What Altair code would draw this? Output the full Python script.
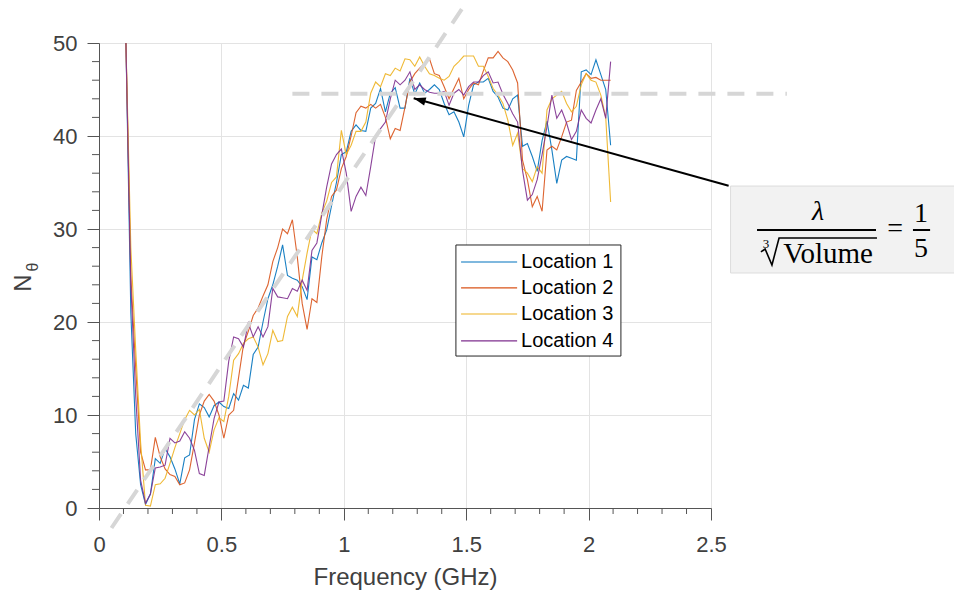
import altair as alt
import pandas as pd

# Frequency grid of the measurement (GHz), 20 MHz steps
FREQ_GHZ = [round(0.11 + 0.02 * i, 2) for i in range(100)]

LOC1 = [50, 21, 8, 2.5, 0.4, 1.5, 5.3, 4.8, 6.4, 5.5,
        4.2, 2.6, 5.4, 5.7, 9.5, 11.2, 10.8, 9.8, 11.0, 11.4,
        10.9, 10.7, 12.3, 11.6, 13.2, 12.9, 16.5, 17.3, 20.0, 22.5,
        24.0, 26.0, 28.3, 25.0, 24.7, 24.5, 23.8, 22.4, 27.0, 26.7,
        28.5, 29.9, 32.5, 35.0, 38.0, 38.3, 40.5, 41.2, 40.6, 40.5,
        43.0, 43.5, 45.1, 42.6, 44.6, 45.2, 43.0, 43.0, 46.2, 44.5,
        45.7, 44.6, 45.0, 45.5, 45.0, 43.5, 42.3, 42.6, 41.5, 39.9,
        43.3, 45.5, 45.8, 45.8, 46.2, 44.8, 44.2, 43.0, 42.8, 44.0,
        44.4, 38.9, 39.2, 37.8, 36.2, 39.5, 41.6, 38.5, 34.9, 37.4,
        37.8, 37.6, 37.4, 46.9, 47.1, 46.6, 48.2, 46.6, 45.0, 39.0]

LOC2 = [50, 25, 15, 6, 4.1, 4.1, 7.6, 5.5, 4.2, 3.6,
        3.4, 2.5, 2.7, 4.1, 7.0, 10.0, 11.5, 12.2, 11.5, 10.0,
        7.5, 10.0, 10.5, 14.0, 17.5, 19.0, 20.7, 21.5, 22.8, 24.0,
        26.5, 28.0, 30.0, 29.5, 31.0, 27.0, 22.0, 19.2, 22.5, 22.1,
        27.0, 31.0, 33.5, 34.2, 36.5, 37.8, 40.0, 42.5, 43.2, 43.0,
        43.4, 43.0, 43.4, 42.0, 39.7, 40.8, 40.6, 43.1, 45.8, 46.7,
        47.3, 47.8, 48.3, 46.7, 46.5, 45.3, 44.0, 45.1, 46.2, 44.0,
        45.0, 45.7, 45.5, 47.0, 48.4, 48.4, 49.1, 48.4, 48.0, 47.1,
        45.7, 37.4, 35.3, 32.4, 33.5, 31.9, 38.5, 38.9, 38.5, 39.9,
        41.5, 41.7, 44.9, 45.8, 46.7, 46.2, 46.3, 46.0, 46.0, 46.0]

LOC3 = [50, 28, 17, 7, 0.3, 0.2, 2.5, 2.6, 3.2, 4.8,
        6.5, 8.0, 9.5, 10.5, 10.0, 10.6, 7.5, 6.0, 8.4, 9.7,
        9.3, 12.0, 15.9, 16.6, 17.7, 18.2, 18.4, 17.3, 15.4, 16.6,
        19.1, 17.9, 18.0, 20.6, 21.6, 20.6, 24.5, 27.4, 30.0, 29.5,
        31.7, 33.0, 35.0, 35.6, 40.6, 38.0, 39.0, 40.5, 40.5, 41.5,
        44.6, 45.8, 45.3, 46.7, 46.5, 47.3, 47.0, 48.3, 48.2, 47.5,
        48.5, 47.5, 46.7, 46.5, 46.2, 46.0, 46.4, 47.5, 48.0, 48.6,
        48.6, 48.6, 47.5, 47.5, 46.4, 45.1, 44.4, 43.5, 41.7, 39.0,
        40.3, 36.5, 36.0, 35.1, 36.7, 36.0, 42.8, 44.0, 44.4, 44.8,
        43.5, 42.6, 43.2, 45.5, 46.7, 46.0, 45.8, 44.4, 42.0, 32.9]

LOC4 = [50, 24, 12, 3, 0.5, 1.5, 4.3, 4.4, 4.6, 7.5,
        7.0, 7.2, 8.2, 7.5, 6.2, 3.7, 3.5, 6.6, 9.6, 11.4,
        11.5, 15.8, 18.4, 18.2, 17.3, 19.9, 18.4, 19.5, 18.4, 19.5,
        23.6, 22.7, 22.6, 22.5, 23.6, 23.3, 24.5, 23.4, 27.7, 28.5,
        31.5, 34.5, 37.0, 38.0, 38.6, 36.0, 31.9, 33.5, 34.5, 33.6,
        36.7, 40.0, 40.8, 41.5, 44.0, 46.0, 45.5, 46.0, 46.9, 45.0,
        45.5, 45.0, 44.7, 44.6, 44.6, 44.8, 43.3, 44.6, 45.0, 44.4,
        45.3, 45.8, 45.8, 46.5, 46.9, 45.7, 45.8, 44.5, 43.5, 42.4,
        41.5, 36.3, 33.1, 33.7, 35.3, 38.0, 41.0, 44.4, 41.9, 42.8,
        41.4, 39.6, 40.5, 42.8, 41.9, 41.4, 42.8, 44.0, 41.9, 48.0]

SERIES = ["Location 1", "Location 2", "Location 3", "Location 4"]
COLORS = ["#0072BD", "#D95319", "#EDB120", "#7E2F8E"]

X_MAJOR = [0, 0.5, 1, 1.5, 2, 2.5]
X_MINOR = [0.1, 0.2, 0.3, 0.4, 0.6, 0.7, 0.8, 0.9, 1.1, 1.2, 1.3, 1.4,
           1.6, 1.7, 1.8, 1.9, 2.1, 2.2, 2.3, 2.4]
Y_MAJOR = [0, 10, 20, 30, 40, 50]
Y_MINOR = [v for v in range(2, 50, 2) if v % 10]

# Guide lines in data units (GHz, N_theta)
SLOPE_X = [0.051, 1.499]
SLOPE_Y = [-2.15, 54.3]
LEVEL_X = [0.79, 2.81]
LEVEL_Y = 44.55
ARROW_TAIL = (2.572, 34.66)
ARROW_TIP = (1.2855, 44.05)

# Legend placement (data units)
LEG_BOX = (1.458, 2.132, 16.34, 28.28)
LEG_LINE_X = (1.479, 1.708)
LEG_TEXT_X = 1.724
LEG_ROWS = [26.45, 23.66, 20.86, 17.96]

# Callout box with the size ratio
BOX = (2.58, 3.53, 25.27, 34.62)

SANS = "Liberation Sans"
SERIF = "Liberation Serif"
AXIS_GRAY = "#555555"
TEXT_GRAY = "#404040"

xs = alt.Scale(domain=[0, 2.5], nice=False, zero=False)
ys = alt.Scale(domain=[0, 50], nice=False, zero=False)
cs = alt.Scale(domain=SERIES, range=COLORS)

x_axis = alt.Axis(
    values=X_MAJOR,
    format="~g",
    title="Frequency (GHz)",
    titleFont=SANS, titleFontSize=24, titleFontWeight="normal", titleColor=TEXT_GRAY,
    titleBaseline="middle", titleY=69,
    labelFont=SANS, labelFontSize=22, labelColor=TEXT_GRAY, labelPadding=14,
    labelFlush=False, labelOverlap=False,
    tickSize=12, tickColor=AXIS_GRAY, tickWidth=1,
    domainColor=AXIS_GRAY, domainWidth=1,
    grid=True, gridColor="#e3e3e3", gridWidth=1,
)
y_axis = alt.Axis(
    values=Y_MAJOR,
    format="d",
    title=None,
    labelFont=SANS, labelFontSize=22, labelColor=TEXT_GRAY, labelPadding=10,
    labelFlush=False, labelOverlap=False,
    tickSize=12, tickColor=AXIS_GRAY, tickWidth=1,
    domainColor=AXIS_GRAY, domainWidth=1,
    grid=True, gridColor="#e3e3e3", gridWidth=1,
)


def X(field):
    return alt.X(field, type="quantitative", scale=xs, axis=x_axis)


def Y(field):
    return alt.Y(field, type="quantitative", scale=ys, axis=y_axis)


rows = []
for name, vals in zip(SERIES, [LOC1, LOC2, LOC3, LOC4]):
    for f, v in zip(FREQ_GHZ, vals):
        rows.append({"x": f, "y": v, "loc": name})
df = pd.DataFrame(rows)

lines = alt.Chart(df).mark_line(strokeWidth=1.1, opacity=0.9, clip=True).encode(
    x=X("x"), y=Y("y"),
    color=alt.Color("loc:N", scale=cs, legend=None),
    detail="loc:N",
)

# Minor ticks drawn outward from the axis lines
x_minor = alt.Chart(pd.DataFrame({"x": X_MINOR})).mark_rule(
    color=AXIS_GRAY, strokeWidth=1, clip=False
).encode(x=X("x"), y=alt.value(465), y2=alt.value(471))
y_minor = alt.Chart(pd.DataFrame({"y": Y_MINOR})).mark_rule(
    color=AXIS_GRAY, strokeWidth=1, clip=False
).encode(y=Y("y"), x=alt.value(0), x2=alt.value(-7))

guide_df = pd.DataFrame({
    "x": [SLOPE_X[0], SLOPE_X[1], LEVEL_X[0], LEVEL_X[1]],
    "y": [SLOPE_Y[0], SLOPE_Y[1], LEVEL_Y, LEVEL_Y],
    "g": ["slope", "slope", "level", "level"],
})
guides = alt.Chart(guide_df).mark_line(
    color="#d6d6d6", strokeWidth=4, strokeDash=[17, 12], clip=False
).encode(x=X("x"), y=Y("y"), detail="g:N")

arrow_df = pd.DataFrame({"x": [ARROW_TAIL[0]], "y": [ARROW_TAIL[1]],
                         "x2": [ARROW_TIP[0]], "y2": [ARROW_TIP[1]]})
arrow_line = alt.Chart(arrow_df).mark_rule(color="black", strokeWidth=2, clip=False).encode(
    x=X("x"), y=Y("y"), x2="x2:Q", y2="y2:Q",
)
arrow_head = alt.Chart(arrow_df).mark_point(
    shape="M0,0L2,-0.7L2,0.7Z", size=144, angle=15.5, filled=True,
    color="black", opacity=1, strokeWidth=0, clip=False,
).encode(x=X("x2"), y=Y("y2"))

# Legend
leg_box_df = pd.DataFrame({"x": [LEG_BOX[0]], "x2": [LEG_BOX[1]],
                           "y": [LEG_BOX[2]], "y2": [LEG_BOX[3]]})
leg_box = alt.Chart(leg_box_df).mark_rect(
    fill="white", stroke="#262626", strokeWidth=1
).encode(x=X("x"), x2="x2:Q", y=Y("y"), y2="y2:Q")
leg_df = pd.DataFrame({"loc": SERIES, "y": LEG_ROWS,
                       "x": [LEG_LINE_X[0]] * 4, "x2": [LEG_LINE_X[1]] * 4,
                       "tx": [LEG_TEXT_X] * 4})
leg_lines = alt.Chart(leg_df).mark_rule(strokeWidth=1.2).encode(
    x=X("x"), x2="x2:Q", y=Y("y"),
    color=alt.Color("loc:N", scale=cs, legend=None),
)
leg_text = alt.Chart(leg_df).mark_text(
    align="left", baseline="middle", font=SANS, fontSize=20, color="black"
).encode(x=X("tx"), y=Y("y"), text="loc:N")

# Callout: lambda / cuberoot(Volume) = 1/5
box_df = pd.DataFrame({"x": [BOX[0]], "x2": [BOX[1]], "y": [BOX[2]], "y2": [BOX[3]]})
callout_box = alt.Chart(box_df).mark_rect(
    fill="#f2f2f2", stroke="#dcdcdc", strokeWidth=1, clip=False
).encode(x=X("x"), x2="x2:Q", y=Y("y"), y2="y2:Q")

glyphs = pd.DataFrame([
    {"x": 2.978, "y": 26.34, "t": "Volume", "size": 29},
    {"x": 3.252, "y": 29.14, "t": "=", "size": 28},
    {"x": 3.358, "y": 30.75, "t": "1", "size": 28},
    {"x": 3.358, "y": 26.99, "t": "5", "size": 28},
])
formula_text = alt.Chart(glyphs).mark_text(
    align="center", baseline="alphabetic", font=SERIF, color="black", clip=False
).encode(
    x=X("x"), y=Y("y"), text="t:N",
    size=alt.Size("size:Q", scale=None, legend=None),
)
lambda_df = pd.DataFrame({"x": [2.937], "y": [30.97], "t": ["λ"]})
lambda_text = alt.Chart(lambda_df).mark_text(
    align="center", baseline="alphabetic", font=SERIF, fontSize=28,
    fontStyle="italic", color="black", clip=False
).encode(x=X("x"), y=Y("y"), text="t:N")
index_df = pd.DataFrame({"x": [2.725], "y": [28.39], "t": ["3"]})
root_index = alt.Chart(index_df).mark_text(
    align="center", baseline="middle", font=SERIF, fontSize=13, color="black", clip=False
).encode(x=X("x"), y=Y("y"), text="t:N")
bars_df = pd.DataFrame({"x": [2.688, 3.325], "x2": [3.174, 3.395], "y": [29.89, 29.89]})
frac_bars = alt.Chart(bars_df).mark_rule(color="black", strokeWidth=2, clip=False).encode(
    x=X("x"), x2="x2:Q", y=Y("y"),
)
radical_df = pd.DataFrame({
    "x": [2.704, 2.721, 2.749, 2.778, 3.178],
    "y": [27.53, 27.85, 26.13, 29.03, 29.03],
    "i": [0, 1, 2, 3, 4],
})
radical = alt.Chart(radical_df).mark_line(color="black", strokeWidth=1.6, clip=False).encode(
    x=X("x"), y=Y("y"), order="i:Q",
)

# Y-axis title N_theta (rotated, with subscript)
one = pd.DataFrame({"a": [0]})
ytitle_n = alt.Chart(one).mark_text(
    text="N", angle=270, align="center", baseline="middle",
    font=SANS, fontSize=24, color=TEXT_GRAY,
).encode(x=alt.value(-75), y=alt.value(240))
ytitle_sub = alt.Chart(one).mark_text(
    text="θ", angle=270, align="center", baseline="middle",
    font=SANS, fontSize=16, color=TEXT_GRAY,
).encode(x=alt.value(-66), y=alt.value(224))

chart = alt.layer(
    lines, x_minor, y_minor, guides, arrow_line, arrow_head,
    leg_box, leg_lines, leg_text,
    callout_box, frac_bars, radical, formula_text, lambda_text, root_index,
    ytitle_n, ytitle_sub,
).properties(
    width=612, height=465,
    padding={"left": 99, "top": 43, "right": 243, "bottom": 88},
    autosize=alt.AutoSizeParams(type="none"),
    background="white",
).configure_view(stroke="#c8c8c8", strokeWidth=1)

chart.save("out.html", embed_options={"renderer": "svg", "actions": False})
